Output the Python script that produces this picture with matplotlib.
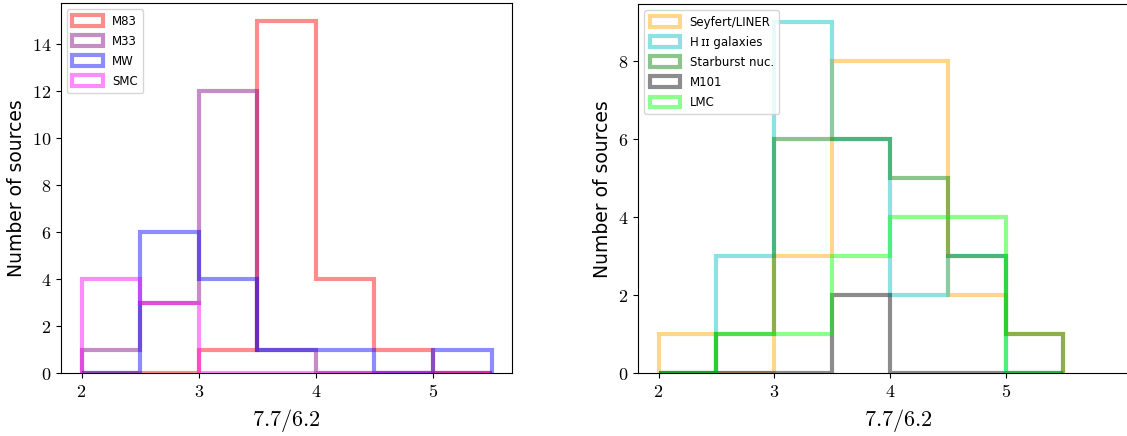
import numpy as np
import matplotlib
matplotlib.use("Agg")
import matplotlib.pyplot as plt

plt.rcParams['mathtext.fontset'] = 'cm'
plt.rcParams['font.family'] = ['DejaVu Sans']

# Bin edges of the 7.7/6.2 ratio histograms
bin_edges = [2.0, 2.5, 3.0, 3.5, 4.0, 4.5, 5.0, 5.5]

# Left panel: counts per bin
left_labels = ["M83", "M33", "MW", "SMC"]
left_colors = ["red", "purple", "blue", "magenta"]
m83 = [0, 0, 1, 15, 4, 1, 0]
m33 = [1, 3, 12, 1, 0, 0, 0]
mw = [0, 6, 4, 1, 1, 0, 1]
smc = [4, 3, 0, 0, 0, 0, 0]
left_counts = [m83, m33, mw, smc]

# Right panel: counts per bin
right_labels = ["Seyfert/LINER", "H\u2009\u026a\u026a galaxies", "Starburst nuc.", "M101", "LMC"]
right_colors = ["orange", "c", "green", "k", "lime"]
seyfert = [1, 0, 3, 8, 8, 2, 1]
hii = [0, 3, 9, 6, 2, 3, 0]
starburst = [0, 1, 6, 6, 5, 3, 1]
m101 = [0, 0, 0, 2, 0, 0, 0]
lmc = [0, 1, 1, 3, 4, 4, 0]
right_counts = [seyfert, hii, starburst, m101, lmc]

xticks = [2, 3, 4, 5]
left_yticks = [0, 2, 4, 6, 8, 10, 12, 14]
right_yticks = [0, 2, 4, 6, 8]

W, H = 1127, 436
fig = plt.figure(figsize=(W / 100, H / 100), dpi=100)
axL = fig.add_axes([61 / W, 62.7 / H, 451 / W, 370 / H])
axR = fig.add_axes([638.3 / W, 62.7 / H, 520 / W, 369 / H])

centers = [(a + b) / 2 for a, b in zip(bin_edges[:-1], bin_edges[1:])]


def draw(ax, counts, labels, colors, yticks, ymax):
    for c, lab, col in zip(counts, labels, colors):
        ax.hist(centers, bins=bin_edges, weights=c, histtype='step',
                color=col, alpha=0.45, lw=3, label=lab)
    ax.set_xticks(xticks)
    ax.set_xticklabels([f"${v}$" for v in xticks], fontsize=13)
    ax.set_yticks(yticks)
    ax.set_yticklabels([f"${v}$" for v in yticks], fontsize=13)
    ax.set_ylim(0, ymax * 1.05)
    ax.set_xlabel(r"$7.7/6.2$", fontsize=16, labelpad=4)
    ax.set_ylabel("Number of sources", fontsize=13.5, labelpad=4)
    ax.tick_params(top=False, right=False, direction='out', length=3.5)
    ax.legend(loc='upper left', fontsize=8.5, handlelength=2.6,
              handleheight=1.0, borderpad=0.45, labelspacing=0.6,
              handletextpad=0.8, framealpha=0.8, fancybox=True)


draw(axL, left_counts, left_labels, left_colors, left_yticks, 15)
axL.set_xlim(1.825, 5.675)

draw(axR, right_counts, right_labels, right_colors, right_yticks, 9)
axR.set_xlim(1.825, 1.825 + 520 / 115.7)

fig.savefig("out.png", dpi=100)
